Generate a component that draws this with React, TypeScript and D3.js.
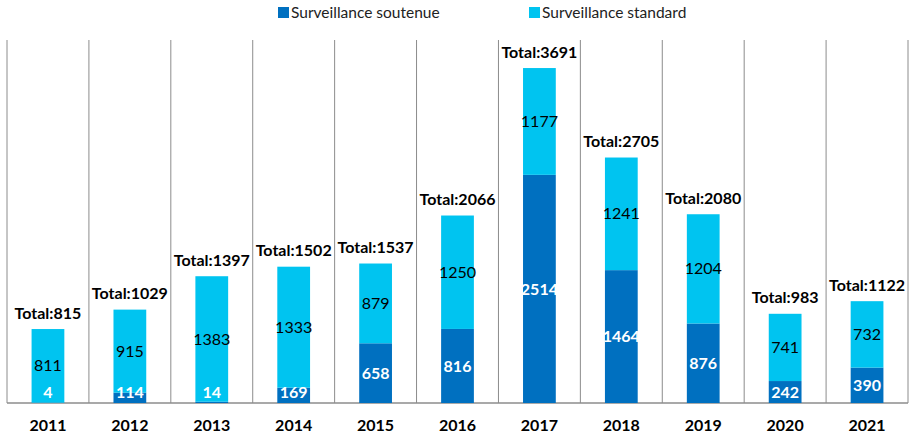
import * as React from "react";
import * as d3 from "d3";

const years = ["2011", "2012", "2013", "2014", "2015", "2016", "2017", "2018", "2019", "2020", "2021"];
const soutenue = [4, 114, 14, 169, 658, 816, 2514, 1464, 876, 242, 390];
const standard = [811, 915, 1383, 1333, 879, 1250, 1177, 1241, 1204, 741, 732];
const totals = [815, 1029, 1397, 1502, 1537, 2066, 3691, 2705, 2080, 983, 1122];
const seriesNames = ["Surveillance soutenue", "Surveillance standard"];

const DARK = "#0070C0";
const LIGHT = "#00C4F0";
const FONT = "Lato, 'Open Sans', sans-serif";

export default function App() {
  const W = 909;
  const H = 439;
  const x = d3.scaleBand<string>().domain(years).range([7, 908]).padding(0);
  const y = d3.scaleLinear().domain([0, 4000]).range([403, 40]);
  const bw = x.bandwidth() * 0.4;

  return (
    <svg width={W} height={H} style={{ position: "absolute", left: 0, top: 0, fontFamily: FONT }}>
      {/* legend */}
      <g>
        <rect x={278} y={7} width={11} height={11} fill={DARK} />
        <text x={291} y={18} fontSize={15.5} fill="#222">{seriesNames[0]}</text>
        <rect x={529} y={7} width={11} height={11} fill={LIGHT} />
        <text x={542} y={18} fontSize={15.5} fill="#222">{seriesNames[1]}</text>
      </g>

      {/* separators */}
      {[...years.map((d) => x(d) as number), 908].map((px, i) => (
        <line key={"s" + i} x1={px} x2={px} y1={40} y2={403} stroke="#8c8c8c" strokeWidth={1} />
      ))}
      <line x1={7} x2={908} y1={403} y2={403} stroke="#8c8c8c" strokeWidth={1.5} />

      {years.map((yr, i) => {
        const cx = (x(yr) as number) + x.bandwidth() / 2;
        const s = soutenue[i];
        const st = standard[i];
        const yS = y(s);
        const yT = y(s + st);
        const sLabelY = Math.min((y(0) + yS) / 2, 392);
        const tLabelY = (yS + yT) / 2;
        return (
          <g key={yr}>
            <rect x={cx - bw / 2} y={yS} width={bw} height={y(0) - yS} fill={DARK} />
            <rect x={cx - bw / 2} y={yT} width={bw} height={yS - yT} fill={LIGHT} />
            <text x={cx} y={tLabelY} dy="0.35em" textAnchor="middle" fontSize={16} fill="#000">{st}</text>
            <text x={cx} y={sLabelY} dy="0.35em" textAnchor="middle" fontSize={16} fontWeight="bold" fill="#fff">{s}</text>
            <text x={cx} y={yT - 16} dy="0.35em" textAnchor="middle" fontSize={16} fontWeight="bold" fill="#000">
              {"Total:" + totals[i]}
            </text>
            <text x={cx} y={425} dy="0.35em" textAnchor="middle" fontSize={16} fontWeight="bold" fill="#000">{yr}</text>
          </g>
        );
      })}
    </svg>
  );
}
